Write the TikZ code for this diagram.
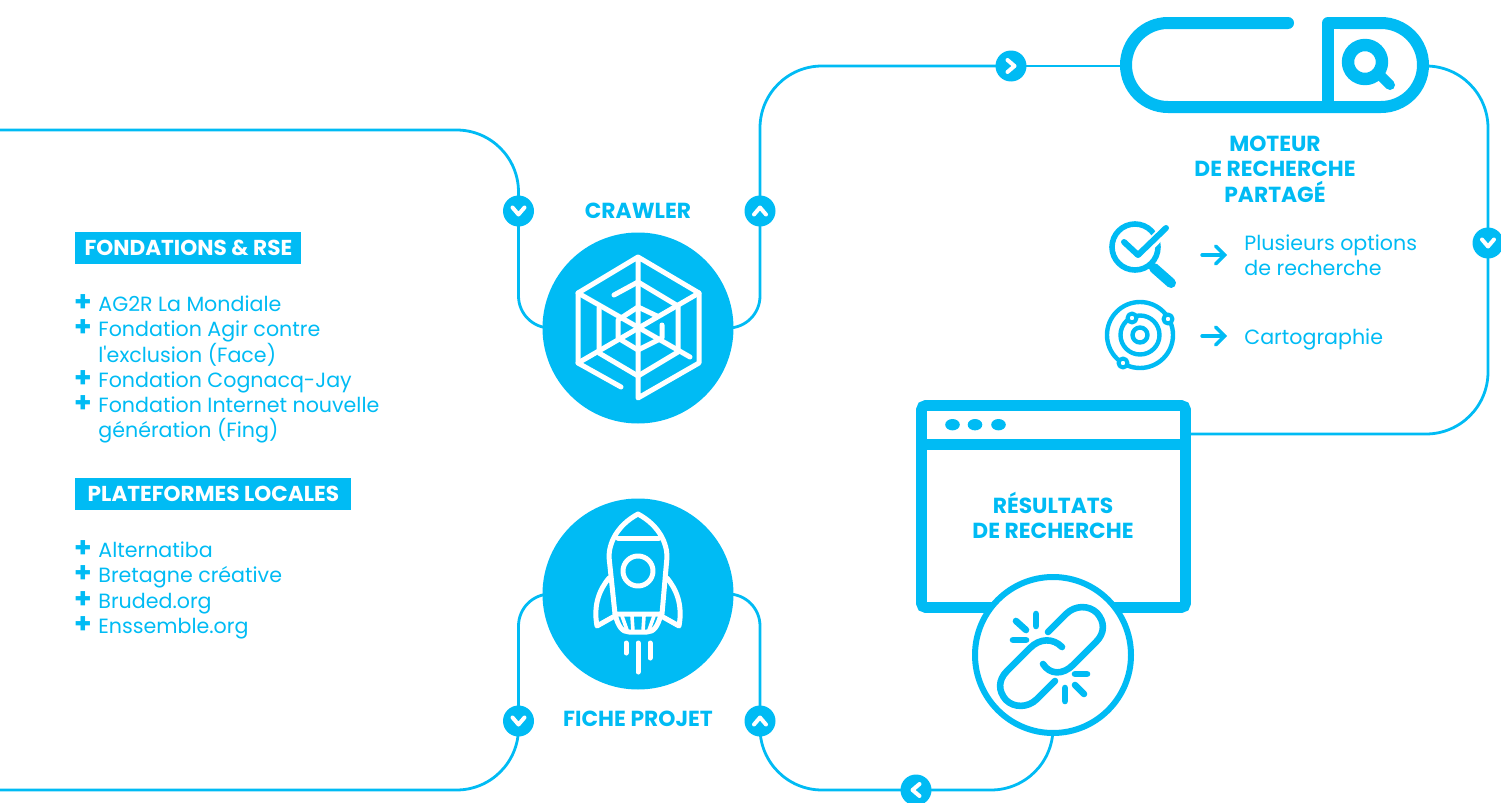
\documentclass[tikz,border=0pt]{standalone}
\usepackage{fontspec}
\setmainfont{Poppins}
\newfontfamily\plainfont{Poppins}
\usetikzlibrary{arrows.meta,backgrounds}
\definecolor{cyanweb}{RGB}{0, 187, 244}
\tikzset{>=latex}
\tikzset{link/.style={draw=cyanweb, line width=1.4pt}}
\tikzset{chev/.style n args={3}{circle, fill=cyanweb, inner sep=0pt, minimum size=15.5pt, path picture={\draw[white, line width=2pt, line cap=round, line join=round, shift={(path picture bounding box.center)}] (#1) -- (#2) -- (#3);}}}
\tikzset{chevup/.style={chev={-6,3.5}{0,-3.5}{6,3.5}}}
\tikzset{chevdown/.style={chev={-6,-3.5}{0,3.5}{6,-3.5}}}
\tikzset{chevleft/.style={chev={3.5,-6}{-3.5,0}{3.5,6}}}
\tikzset{chevright/.style={chev={-3.5,-6}{3.5,0}{-3.5,6}}}
\tikzset{picto/.style={draw=white, line width=2.5pt, line cap=round, line join=round}}
\tikzset{icon/.style={draw=cyanweb, line cap=round, line join=round}}
\tikzset{entry/.style={text=cyanweb, anchor=base west, inner sep=0pt, font=\fontsize{10.3}{12}\selectfont}}
\tikzset{plus/.style={text=cyanweb, anchor=base, inner sep=0pt, font=\fontsize{14}{14}\selectfont\bfseries}}
\tikzset{head/.style={fill=cyanweb, text=white, anchor=west, inner sep=0pt, minimum height=16pt, font=\fontsize{10.8}{12}\selectfont\bfseries}}
\tikzset{title/.style={text=cyanweb, align=center, inner sep=0pt, font=\fontsize{10.9}{12.7}\selectfont\bfseries}}
\begin{document}
\begin{tikzpicture}[x=0.5pt, y=-0.5pt]
\useasboundingbox (0,0) rectangle (1501,803);
% big blocks
\node[circle, fill=cyanweb, inner sep=0pt, minimum size=95.5pt] (crawler) at (638,328) {};
\node[circle, fill=cyanweb, inner sep=0pt, minimum size=95.5pt] (fiche) at (638,594) {};
\node[inner sep=0pt, minimum width=154pt, minimum height=48pt] (moteur) at (1274,66) {};
\node[draw=cyanweb, line width=5.3pt, rounded corners=2pt, inner sep=0pt, minimum width=132pt, minimum height=101pt] (fenetre) at (1053.5,506.5) {};
\node[circle, draw=cyanweb, fill=white, line width=3pt, inner sep=0pt, minimum size=78pt] (rupture) at (1053,655) {};
% chevrons
\node[chevdown] (chevA) at (518.5,211) {};
\node[chevup] (chevB) at (760,211) {};
\node[chevright] (chevC) at (1011,66) {};
\node[chevdown] (chevD) at (1488,243) {};
\node[chevdown] (chevE) at (518.5,721) {};
\node[chevup] (chevF) at (760,721) {};
\node[chevleft] (chevG) at (916,790) {};
\coordinate (hautgauche) at (0,130);
\coordinate (basgauche) at (0,790);
\coordinate (sortie) at (1190,434);
\begin{scope}[on background layer]
\draw[link, rounded corners=16pt] (crawler.center) -| (chevA.center);
\draw[link, rounded corners=31pt] (chevA.center) |- (hautgauche);
\draw[link, rounded corners=16pt] (crawler.center) -| (chevB.center);
\draw[link, rounded corners=31pt] (chevB.center) |- (chevC.center);
\draw[link] (chevC.center) -- (moteur.center);
\draw[link, rounded corners=31pt] (moteur.center) -| (chevD.center);
\draw[link, rounded corners=31pt] (chevD.center) |- (sortie);
\draw[link, rounded corners=16pt] (fiche.center) -| (chevE.center);
\draw[link, rounded corners=31pt] (chevE.center) |- (basgauche);
\draw[link, rounded corners=16pt] (fiche.center) -| (chevF.center);
\draw[link, rounded corners=31pt] (chevF.center) |- (chevG.center);
\draw[link, rounded corners=31pt] (chevG.center) -| (rupture.center);
\end{scope}
% search bar
\fill[white] (1126,23) rectangle (1423,107);
\draw[icon, line width=6pt, rounded corners=21pt] (1288,23) -- (1126,23) -- (1126,107) -- (1423,107) -- (1423,23) -- (1340,23);
\draw[icon, line width=6pt] (1345,23) -- (1328,23) -- (1328,107);
\draw[icon, line width=6.2pt] (1365,62) circle (17);
\draw[icon, line width=5pt] (1380,75) -- (1390,85);
% window
\fill[cyanweb] (fenetre.west |- 0,438.5) rectangle (fenetre.east |- 0,449.5);
\foreach \x in {952.5,975,998.5} \fill[cyanweb] (\x,424.7) ellipse (7.3 and 5.7);
% web
\begin{scope}[shift={(crawler.center)}]
\draw[picto] (-17,59) -- (-60,35) -- (-60,-35) -- (0,-71) -- (61,-35) -- (61,35) -- (0,70) -- (0,-71);
\draw[picto] (-60,-35) -- (52,29);
\draw[picto] (61,-35) -- (-60,35);
\draw[picto] (-24,-33) -- (0,-46) -- (40,-22) -- (40,24) -- (0,48) -- (-39,25) -- (-39,-20);
\draw[picto] (19,-12) -- (0,-21) -- (-20,-8) -- (-20,10) -- (0,22) -- (24,10) -- (24,-3);
\end{scope}
% rocket
\begin{scope}[shift={(fiche.center)}]
\draw[picto] (0,-80) .. controls (-22,-68) and (-29,-50) .. (-29,-37) -- (-23,20) -- (24,20) -- (29,-37) .. controls (29,-50) and (22,-68) .. (0,-80);
\draw[picto] (-20,-56) -- (21,-56);
\draw[picto] (0,-23) circle (15);
\draw[picto] (-23,20) .. controls (-20,32) and (-16,38) .. (-9,38) -- (9,38) .. controls (16,38) and (20,32) .. (23,20);
\foreach \a/\b in {-6/-5,6/5} \draw[picto, line width=1.8pt] (\a,22) -- (\b,37);
\draw[picto, line width=1.8pt] (-16,22) -- (-11,36);
\draw[picto, line width=1.8pt] (16,22) -- (11,36);
\draw[picto] (-29,-16) .. controls (-38,-5) and (-45,10) .. (-41,32) -- (-25,23);
\draw[picto] (29,-16) .. controls (38,-5) and (45,10) .. (41,32) -- (25,23);
\draw[picto] (-12,49) -- (-12,59);
\draw[picto] (0,49) -- (0,78);
\draw[picto] (12,49) -- (12,64);
\end{scope}
% chain
\begin{scope}[shift={(rupture.center)}]
\draw[icon, line width=3.3pt] (-5,-23) -- (13,-41) .. controls (22,-50) and (36,-50) .. (44,-42) .. controls (52,-33) and (52,-22) .. (43,-13) -- (20,10) .. controls (10,20) and (-3,20) .. (-10,9);
\draw[icon, line width=3.3pt] (2,26) -- (-16,44) .. controls (-25,53) and (-39,53) .. (-47,45) .. controls (-55,36) and (-55,25) .. (-46,16) -- (-23,-7) .. controls (-13,-17) and (0,-17) .. (9,-8);
\foreach \a/\b/\c/\d in {-17/-41/-17/-29, -37/-34/-27/-25, -40/-15/-27/-15, 22/19/34/19, 22/30/31/39, 12/33/12/46} \draw[icon, line width=3.3pt] (\a,\b) -- (\c,\d);
\end{scope}
% check and lens
\draw[icon, line width=2.8pt] (1135,247) circle (23);
\draw[white, line width=5.5pt] (1150,245) -- (1168,226);
\draw[icon, line width=3pt] (1124,242) -- (1138,255) -- (1166,228);
\draw[icon, line width=5pt] (1154,268) -- (1171,283);
% atom
\draw[icon, line width=2.2pt] (1140,335) circle (33);
\draw[icon, line width=2.2pt] (1140,335) circle (19.5);
\draw[icon, line width=2.2pt] (1140,335) circle (7.5);
\foreach \x/\y in {1132/318, 1168/319, 1123/363} \draw[icon, fill=white, line width=2pt] (\x,\y) circle (4.5);
% arrows
\coordinate (depA) at (1202,255);
\coordinate (finA) at (1227,255);
\coordinate (depB) at (1202,336);
\coordinate (finB) at (1227,336);
\draw[icon, line width=1.7pt, -{Straight Barb[length=4.5pt, width=9pt, line cap=round]}] (depA) -- (finA);
\draw[icon, line width=1.7pt, -{Straight Barb[length=4.5pt, width=9pt, line cap=round]}] (depB) -- (finB);
% texts
\node[title] (titreA) at (638,211) {CRAWLER};
\node[title] (titreB) at (638,719) {FICHE PROJET};
\node[title] (titreC) at (1275,169) {MOTEUR\\DE RECHERCHE\\PARTAGÉ};
\node[title] (titreD) at (1053,515.5) {RÉSULTATS\\DE RECHERCHE};
\node[entry] (optA) at (1244,250) {Plusieurs options};
\node[entry] (optB) at (1244,275) {de recherche};
\node[entry] (optC) at (1244,344) {Cartographie};
\node[head, minimum width=113pt] (headA) at (75,248) {FONDATIONS \& RSE};
\node[head, minimum width=138pt] (headB) at (75,494) {PLATEFORMES LOCALES};
\foreach \y/\t in {311/AG2R La Mondiale, 336/Fondation Agir contre, 362/l{\plainfont '}exclusion (Face), 387/Fondation Cognacq-Jay, 412/Fondation Internet nouvelle, 437/génération (Fing), 557/Alternatiba, 582/Bretagne créative, 608/Bruded.org, 633/Enssemble.org} \node[entry, name=ligne\y] at (98,\y) {\t};
\foreach \y in {311,336,387,412,557,582,608,633} \node[plus, name=plus\y] at (83,\y) {+};
\end{tikzpicture}
\end{document}
